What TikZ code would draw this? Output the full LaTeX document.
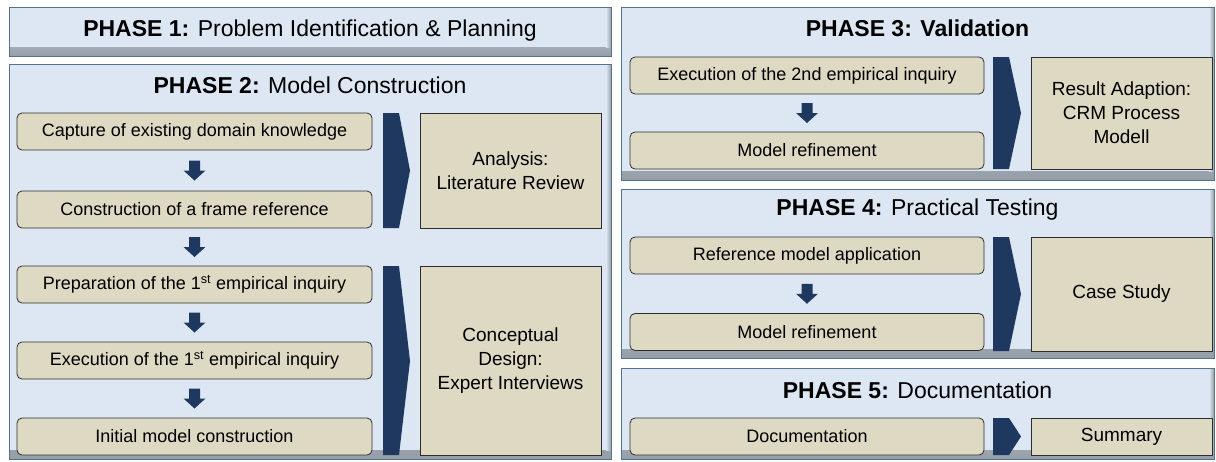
\documentclass[tikz,border=0pt]{standalone}
\usepackage{fontspec}
\setmainfont{Liberation Sans}
\usetikzlibrary{calc}
\definecolor{phasebg}{RGB}{221,231,243}
\definecolor{phaseline}{RGB}{84,114,136}
\definecolor{phaseshade}{RGB}{150,158,168}
\definecolor{stepfill}{RGB}{222,217,195}
\definecolor{stepline}{RGB}{45,45,45}
\definecolor{navy}{RGB}{31,56,96}
\tikzstyle{phase} = [rectangle, draw=phaseline, fill=phasebg, line width=0.9pt,
                     path picture={
                       \shade[top color=phasebg, bottom color=phaseshade]
                         ([yshift=9pt]path picture bounding box.south west) rectangle (path picture bounding box.south east);
                       \shade[left color=phasebg, right color=phaseshade]
                         ([xshift=-5pt]path picture bounding box.north east) rectangle ([yshift=9pt]path picture bounding box.south east);
                     }]
\tikzstyle{phasetitle} = [font=\fontsize{23}{27}\selectfont, inner sep=0pt]
\tikzstyle{stepbox} = [rectangle, rounded corners=5pt, minimum width=355pt,
                       minimum height=37pt, text centered, draw=stepline, line width=0.8pt,
                       fill=stepfill, font=\fontsize{18}{21}\selectfont]
\tikzstyle{method} = [rectangle, minimum width=181pt, text centered, align=center,
                      draw=stepline, line width=0.8pt, fill=stepfill,
                      font=\fontsize{19}{24}\selectfont]
\tikzstyle{chevron} = [fill=navy]
\tikzset{downarrow/.pic={\fill[navy] (-5.5,-10) -- (5.5,-10) -- (5.5,0) -- (11,0) -- (0,10) -- (-11,0) -- (-5.5,0) -- cycle;}}

\begin{document}
\begin{tikzpicture}[x=1pt, y=-1pt]
    \useasboundingbox (0,0) rectangle (1216,461);

    % Phase 1
    \node[phase, minimum width=602pt, minimum height=49pt] (p1) at (310,31.5) {};
    \node[phasetitle] (t1) at (310,31) {\textbf{PHASE 1:} Problem Identification \& Planning};

    % Phase 2
    \node[phase, minimum width=602pt, minimum height=395pt] (p2) at (310,261.5) {};
    \node[phasetitle] (t2) at (310,85) {\textbf{PHASE 2:} Model Construction};
    \node[stepbox] (capture) at (194.5,131.5) {Capture of existing domain knowledge};
    \node[stepbox] (frame) at (194.5,209.5) {Construction of a frame reference};
    \node[stepbox] (prep) at (194.5,284.5) {Preparation of the 1\textsuperscript{st} empirical inquiry};
    \node[stepbox] (exec1) at (194.5,360.5) {Execution of the 1\textsuperscript{st} empirical inquiry};
    \node[stepbox] (initial) at (194.5,436.5) {Initial model construction};
    \pic at ($(capture.south)!0.5!(frame.north)$) {downarrow};
    \pic at ($(frame.south)!0.5!(prep.north)$) {downarrow};
    \pic at ($(prep.south)!0.5!(exec1.north)$) {downarrow};
    \pic at ($(exec1.south)!0.5!(initial.north)$) {downarrow};
    \fill[chevron] (383,113) -- (399,113) -- (410,170.5) -- (399,228) -- (383,228) -- cycle;
    \fill[chevron] (383,266) -- (399,266) -- (410,361) -- (399,455) -- (383,455) -- cycle;
    \node[method, minimum height=115pt] (analysis) at (510.5,170.5) {Analysis:\\Literature Review};
    \node[method, minimum height=189pt] (concept) at (510.5,360.5) {Conceptual\\Design:\\Expert Interviews};

    % Phase 3
    \node[phase, minimum width=593pt, minimum height=173pt] (p3) at (917.5,93.5) {};
    \node[phasetitle] (t3) at (917.5,28) {\textbf{PHASE 3: Validation}};
    \node[stepbox, minimum width=354pt] (exec2) at (807,75.5) {Execution of the 2nd empirical inquiry};
    \node[stepbox, minimum width=354pt] (refine1) at (807,150.5) {Model refinement};
    \pic at ($(exec2.south)!0.5!(refine1.north)$) {downarrow};
    \fill[chevron] (993,57) -- (1009,57) -- (1021,113) -- (1009,169) -- (993,169) -- cycle;
    \node[method, minimum height=112pt] (adaption) at (1121.5,113) {Result Adaption:\\CRM Process\\Modell};

    % Phase 4
    \node[phase, minimum width=593pt, minimum height=169pt] (p4) at (917.5,273.5) {};
    \node[phasetitle] (t4) at (917.5,210) {\textbf{PHASE 4:} Practical Testing};
    \node[stepbox, minimum width=354pt] (apply) at (807,255.5) {Reference model application};
    \node[stepbox, minimum width=354pt] (refine2) at (807,332) {Model refinement};
    \pic at ($(apply.south)!0.5!(refine2.north)$) {downarrow};
    \fill[chevron] (993,237) -- (1009,237) -- (1021,294) -- (1009,351) -- (993,351) -- cycle;
    \node[method, minimum height=114pt] (case) at (1121.5,294) {Case Study};

    % Phase 5
    \node[phase, minimum width=593pt, minimum height=91pt] (p5) at (917.5,413.5) {};
    \node[phasetitle] (t5) at (917.5,390) {\textbf{PHASE 5:} Documentation};
    \node[stepbox, minimum width=354pt] (doc) at (807,436.5) {Documentation};
    \fill[chevron] (993,418) -- (1009,418) -- (1021,436.5) -- (1009,455) -- (993,455) -- cycle;
    \node[method, minimum height=37pt, text height=13pt, text depth=4pt] (summary) at (1121.5,436.5) {Summary};
\end{tikzpicture}
\end{document}
